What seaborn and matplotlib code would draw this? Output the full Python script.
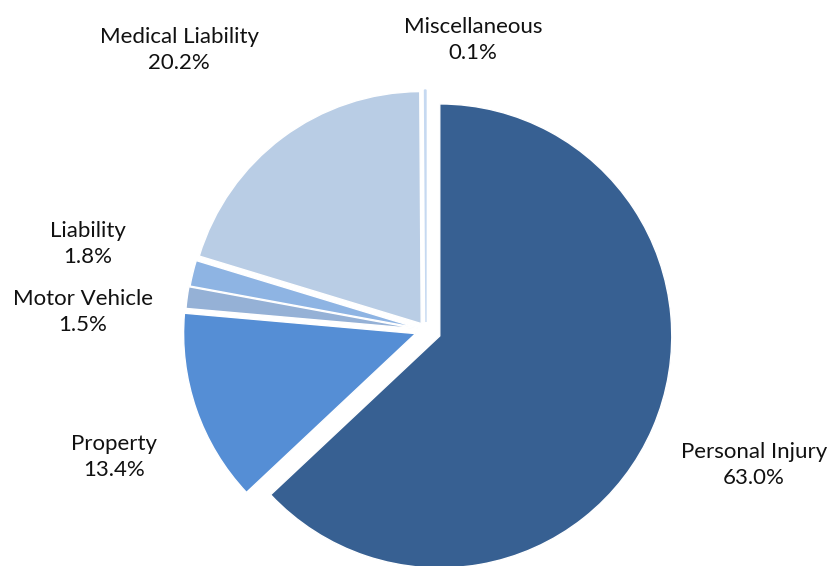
import matplotlib
matplotlib.use("Agg")
import matplotlib.pyplot as plt
import seaborn as sns

categories = ["Personal Injury", "Property", "Motor Vehicle", "Liability",
              "Medical Liability", "Miscellaneous"]
values = [63.0, 13.4, 1.5, 1.8, 20.2, 0.1]
colors = ["#376092", "#558ED5", "#95B1D6", "#8EB4E3", "#B9CDE5", "#C6D9F1"]
explode_px = [15, 11, 9, 8, 8, 8]

# label anchor positions (pixels, from top-left)
label_pos = [(754, 465), (114, 457), (83, 312), (88, 244), (179, 50), (473, 40)]

sns.set_theme(style="white")
plt.rcParams["font.family"] = ["Lato", "DejaVu Sans"]

W, H = 832, 566
fig = plt.figure(figsize=(W / 100, H / 100), dpi=100)
ax = fig.add_axes([0, 0, 1, 1])

cx, cy, r = 426, H - 330, 232
wedges, _ = ax.pie(values, colors=colors, explode=explode_px,
                   startangle=90, counterclock=False,
                   center=(cx, cy), radius=r, frame=True,
                   wedgeprops=dict(edgecolor="white", linewidth=1.0))
# the tiny slice keeps its own colour as outline so it stays visible
wedges[-1].set_edgecolor(colors[-1])
wedges[-1].set_linewidth(1.0)
ax.set_xlim(0, W)
ax.set_ylim(0, H)
ax.set_aspect("equal")
ax.axis("off")

for name, v, (x, y) in zip(categories, values, label_pos):
    ax.text(x, H - y, f"{name}\n{v:.1f}%", ha="center", va="center",
            fontsize=16, color="#111111", linespacing=1.38)

fig.savefig("out.png", dpi=100)
